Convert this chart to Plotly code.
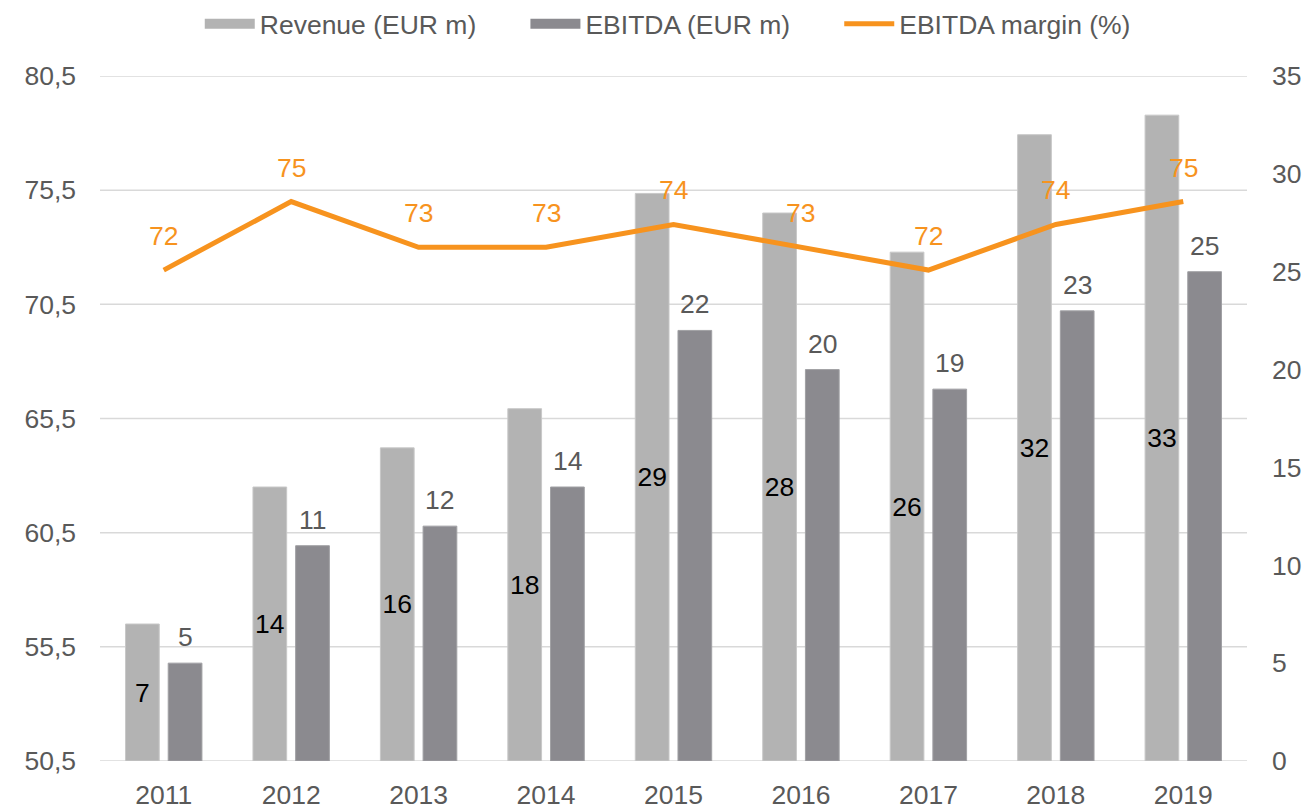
import plotly.graph_objects as go

years = ["2011", "2012", "2013", "2014", "2015", "2016", "2017", "2018", "2019"]
revenue = [7, 14, 16, 18, 29, 28, 26, 32, 33]
ebitda = [5, 11, 12, 14, 22, 20, 19, 23, 25]
margin = [72, 75, 73, 73, 74, 73, 72, 74, 75]
left_ticks = [50.5, 55.5, 60.5, 65.5, 70.5, 75.5, 80.5]
left_tick_text = ["50,5", "55,5", "60,5", "65,5", "70,5", "75,5", "80,5"]
right_ticks = [0, 5, 10, 15, 20, 25, 30, 35]
series_names = ["Revenue (EUR m)", "EBITDA (EUR m)", "EBITDA margin (%)"]

FONT = "Liberation Sans, Arial, sans-serif"
FS = 26.5
GREY_TXT = "#595959"
ORANGE = "#f7931e"
REV_C = "#b3b3b3"
EB_C = "#8b8a8f"
BARGAP = 0.33
PAD = "\u00a0" * 6

fig = go.Figure()
fig.add_trace(go.Bar(
    x=years, y=revenue, name=series_names[0], showlegend=False,
    marker=dict(color=REV_C, line=dict(color="#c8c8c8", width=1)),
    text=[str(v) for v in revenue], textposition="inside", insidetextanchor="middle",
    textfont=dict(color="black", size=FS, family=FONT), constraintext="none",
    yaxis="y",
))
fig.add_trace(go.Bar(
    x=years, y=ebitda, name=series_names[1], showlegend=False,
    marker=dict(color=EB_C, line=dict(color="#a0a0a4", width=1)),
    yaxis="y",
))
fig.add_trace(go.Scatter(
    x=years, y=margin, name=series_names[2], mode="lines", showlegend=False,
    line=dict(color=ORANGE, width=5), yaxis="y2",
))

# legend entries (wide swatches like the reference)
for k, (nm, col, w) in enumerate([(series_names[0], REV_C, 13), (series_names[1], EB_C, 13),
                                  (series_names[2], ORANGE, 5)]):
    fig.add_trace(go.Scatter(x=[years[0]], y=[None], mode="lines",
                             name=nm + (PAD if k < 2 else ""),
                             line=dict(color=col, width=w), yaxis="y2", showlegend=True))

# EBITDA labels above bars (bar centre = category index + quarter of group width)
off = (1 - BARGAP) / 4
for i, v in enumerate(ebitda):
    fig.add_annotation(x=i + off, y=v, xref="x", yref="y", text=str(v), showarrow=False,
                       yshift=26, font=dict(color=GREY_TXT, size=FS, family=FONT))

# margin labels above the line points
for i, m in enumerate(margin):
    fig.add_annotation(x=i, y=m, xref="x", yref="y2", text=str(m), showarrow=False,
                       yshift=34, font=dict(color=ORANGE, size=FS, family=FONT))

for t in left_ticks:
    fig.add_shape(type="line", xref="paper", x0=0, x1=1, yref="y2", y0=t, y1=t,
                  line=dict(color="#d9d9d9", width=1.5), layer="below")

fig.update_layout(
    width=1306, height=809,
    margin=dict(l=100, r=59, t=76, b=48, autoexpand=False),
    paper_bgcolor="white", plot_bgcolor="white",
    font=dict(family=FONT, size=FS, color=GREY_TXT),
    barmode="group", bargap=BARGAP, bargroupgap=0.21,
    showlegend=True,
    legend=dict(orientation="h", x=0.495, xanchor="center", xref="paper",
                y=1.0, yanchor="top", yref="container",
                font=dict(size=FS, color=GREY_TXT), traceorder="normal",
                itemwidth=50, bgcolor="rgba(0,0,0,0)"),
    xaxis=dict(type="category", range=[-0.5, len(years) - 0.5], autorange=False,
               showgrid=False, showline=False, zeroline=False, ticks="",
               tickfont=dict(size=FS, color=GREY_TXT), ticklabelstandoff=15),
    yaxis=dict(side="right", range=[0, 35], tickvals=right_ticks, showgrid=False,
               zeroline=False, showline=False, ticks="",
               tickfont=dict(size=FS, color=GREY_TXT), ticklabelstandoff=24),
    yaxis2=dict(side="left", overlaying="y", anchor="x", range=[50.5, 80.5],
                tickvals=left_ticks, ticktext=left_tick_text, showgrid=False,
                zeroline=False, showline=False, ticks="",
                tickfont=dict(size=FS, color=GREY_TXT), ticklabelstandoff=23),
)

fig.write_html("out.html", config={"displayModeBar": False},
               post_script="document.body.style.margin='0';document.body.style.overflow='hidden';")
